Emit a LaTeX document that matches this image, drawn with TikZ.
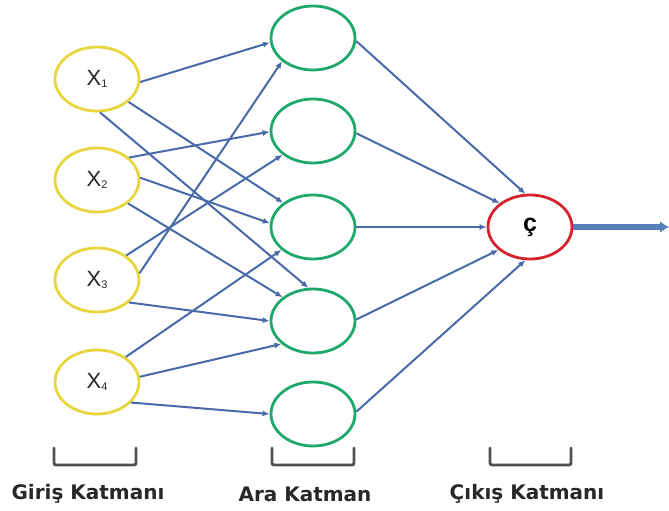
\documentclass[tikz,border=0pt]{standalone}
\usepackage{fontspec}
\setmainfont{Liberation Sans}
\newfontfamily\labfont{DejaVu Sans}
\usetikzlibrary{arrows.meta,shapes.geometric}
\definecolor{inyellow}{RGB}{232,214,62}
\definecolor{hidgreen}{RGB}{30,168,108}
\definecolor{outred}{RGB}{214,36,46}
\definecolor{conblue}{RGB}{72,106,168}
\definecolor{arrblue}{RGB}{86,128,186}
\definecolor{txtgray}{RGB}{40,40,40}
\definecolor{brgray}{RGB}{80,80,80}
\newcommand{\xlab}[1]{{\fontsize{22}{22}\selectfont X}{\fontsize{11}{11}\selectfont\raisebox{-1.5pt}{#1}}}
\begin{document}
\begin{tikzpicture}[x=1pt,y=-1pt,
  neuron/.style={ellipse, minimum width=84pt, minimum height=64pt, line width=2.8pt, inner sep=0pt, fill=white, text=txtgray},
  innode/.style={neuron, draw=inyellow},
  hidnode/.style={neuron, draw=hidgreen},
  outnode/.style={neuron, draw=outred, font=\bfseries\fontsize{25}{25}\selectfont, text=black},
  conn/.style={draw=conblue, line width=2pt, -{Latex[length=7pt,width=6pt]}},
  bigarrow/.style={draw=arrblue, line width=6pt, -{Latex[length=9pt,width=12pt]}},
  bracket/.style={draw=brgray, line width=2.8pt, rounded corners=2pt, line cap=round},
  lab/.style={text=txtgray, font=\labfont\bfseries\fontsize{20}{20}\selectfont, inner sep=0pt}
]
\useasboundingbox (0,0) rectangle (669,511);
\fill[white] (0,0) rectangle (669,511);

% input layer
\node[innode] (x1) at (97,79) {\xlab{1}};
\node[innode] (x2) at (97,180) {\xlab{2}};
\node[innode] (x3) at (97,280) {\xlab{3}};
\node[innode] (x4) at (97,382) {\xlab{4}};

% hidden layer
\node[hidnode] (h1) at (313,38) {};
\node[hidnode] (h2) at (313,131) {};
\node[hidnode] (h3) at (313,227) {};
\node[hidnode] (h4) at (313,321) {};
\node[hidnode] (h5) at (313,414) {};

% output
\node[outnode] (o) at (530,227) {ç};
\coordinate (oend) at (669,227);

% input -> hidden
\draw[conn] (x1.-4) -- (h1.186);
\draw[conn] (x1.-36) -- (h3.141);
\draw[conn] (x1.-85) -- (h4.98);
\draw[conn] (x2.35) -- (h2.181);
\draw[conn] (x2.3) -- (h3.175);
\draw[conn] (x2.-37) -- (h4.142);
\draw[conn] (x3.9) -- (h1.217);
\draw[conn] (x3.40) -- (h2.218);
\draw[conn] (x3.-35) -- (h4.180);
\draw[conn] (x4.41) -- (h3.216);
\draw[conn] (x4.7) -- (h4.216);
\draw[conn] (x4.-31) -- (h5.180);

% hidden -> output
\draw[conn] (h1.-4) -- (o.98);
\draw[conn] (h2.-3) -- (o.142);
\draw[conn] (h3.0) -- (o.180);
\draw[conn] (h4.2) -- (o.216);
\draw[conn] (h5.3) -- (o.262);

% output arrow
\draw[bigarrow] (o.east) -- (oend);

% brackets
\draw[bracket] (54,448) |- (136,465) -- (136,448);
\draw[bracket] (272,448) |- (354,465) -- (354,448);
\draw[bracket] (490,448) |- (571,465) -- (571,448);

% labels
\node[lab] (l1) at (88,494) {Giriş Katmanı};
\node[lab] (l2) at (305,494) {Ara Katman};
\node[lab] (l3) at (527,494) {Çıkış Katmanı};
\end{tikzpicture}
\end{document}
